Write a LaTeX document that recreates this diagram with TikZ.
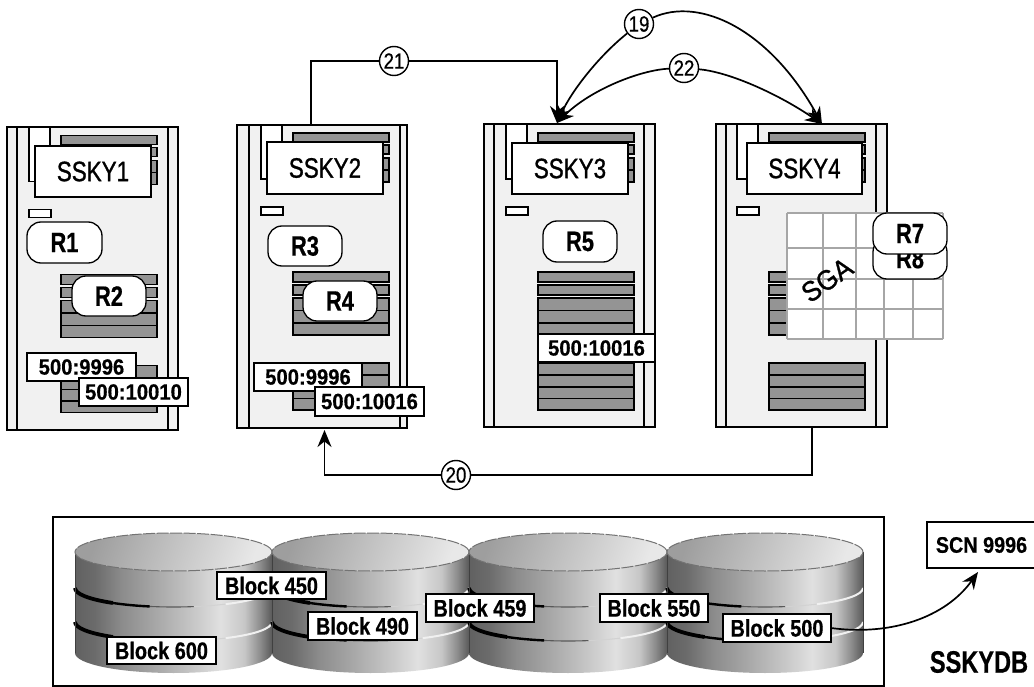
\documentclass[tikz,border=0pt]{standalone}
\usepackage{fontspec}
\setmainfont{Liberation Sans}
\newfontfamily\fS[FakeStretch=0.8,FakeBold=1]{Liberation Sans}
\newfontfamily\fG[FakeStretch=0.93,FakeBold=1]{Liberation Sans}
\newfontfamily\fR[FakeStretch=0.78,FakeBold=.6]{Liberation Sans Bold}
\newfontfamily\fV[FakeStretch=0.92,FakeBold=.5]{Liberation Sans Bold}
\newfontfamily\fB[FakeStretch=0.83,FakeBold=.5]{Liberation Sans Bold}
\newfontfamily\fC[FakeStretch=0.88,FakeBold=.5]{Liberation Sans Bold}
\newfontfamily\fD[FakeStretch=0.76,FakeBold=.6]{Liberation Sans Bold}
\newfontfamily\fN[FakeStretch=0.85,FakeBold=.6]{Liberation Sans}
\usetikzlibrary{arrows.meta}
\pgfdeclarehorizontalshading{diskside}{100bp}{rgb(0bp)=(.38,.38,.38); rgb(25bp)=(.38,.38,.38); rgb(30bp)=(.42,.42,.42); rgb(37bp)=(.55,.55,.55); rgb(45bp)=(.65,.65,.65); rgb(55bp)=(.78,.78,.78); rgb(62bp)=(.88,.88,.88); rgb(68bp)=(.78,.78,.78); rgb(72bp)=(.55,.55,.55); rgb(75bp)=(.35,.35,.35); rgb(100bp)=(.35,.35,.35)}
\tikzset{
  srv/.style={draw=black,line width=1.7pt,fill=srvgray,inner sep=0,outer sep=0},
  strip/.style={draw=black,line width=1.5pt},
  tabbox/.style={draw=black,line width=1.3pt,fill=white},
  bar/.style={draw=black,line width=1.3pt,fill=bargray},
  label/.style={draw=black,line width=1.6pt,fill=white,inner sep=0,outer sep=0,font=\fS\fontsize{28}{30}\selectfont},
  req/.style={draw=black,line width=1.3pt,fill=white,rounded corners=14pt,inner sep=0,outer sep=0,font=\fR\fontsize{28}{30}\selectfont},
  tag/.style={draw=black,line width=1.5pt,fill=white,inner sep=0,outer sep=0,font=\fV\fontsize{22}{24}\selectfont},
  blk/.style={draw=black,line width=1.5pt,fill=white,inner sep=0,outer sep=0,font=\fB\fontsize{24}{26}\selectfont},
  step circle/.style={circle,draw=black,line width=1.4pt,fill=white,minimum size=29pt,inner sep=0,font=\fN\fontsize{22}{24}\selectfont},
  conn/.style={draw=black,line width=1.7pt},
  tip/.style={-{Stealth[length=17pt,width=14pt]}},
  sgaline/.style={draw=sgagray,line width=1.8pt},
}
\definecolor{srvgray}{HTML}{F1F1F1}
\definecolor{bargray}{HTML}{949494}
\definecolor{sgagray}{HTML}{A6A6A6}
\newcommand{\rn}[7]{%
  \pgfmathsetmacro{\rnx}{(#3+#5)/2}\pgfmathsetmacro{\rny}{(#4+#6)/2}%
  \pgfmathsetmacro{\rnw}{#5-#3}\pgfmathsetmacro{\rnh}{#6-#4}%
  \node[#1,minimum width=\rnw pt,minimum height=\rnh pt] (#2) at (\rnx,\rny) {#7};}
% name x0 y0 x1 y1 stripL stripR tabx dy
\newcommand{\serverbody}[9]{%
  \rn{srv}{#1}{#2}{#3}{#4}{#5}{}%
  \draw[strip] (#6,#3) -- (#6,#5) (#7,#3) -- (#7,#5);
  \pgfmathsetmacro{\tabr}{#8+21}\pgfmathsetmacro{\barl}{#8+32}\pgfmathsetmacro{\barr}{#8+128}%
  \draw[tabbox] (#8,#3) rectangle (\tabr,179+#9);
  \draw[tabbox] (#8,207+#9) rectangle (\tabr+1,215+#9);
  \foreach \a/\b in {133/142,145/154,158/170,170/182,272/282,285/295,298/310.5,310.5/323,323/335,363/375,375/387,387/398.5,398.5/410}
    {\draw[bar] (\barl,\a+#9) rectangle (\barr,\b+#9);}
}
\newcommand{\disk}[2]{%
  \pgfmathsetmacro{\dcx}{(#1+#2)/2}\pgfmathsetmacro{\drx}{(#2-#1)/2}%
  \begin{scope}
  \shade[shading=diskside] (#1,552) -- (#1,653) arc[start angle=180,end angle=360,x radius=\drx pt,y radius=20pt] -- (#2,552) -- cycle;
  \foreach \sy in {588,622}{
    \draw[black!65,line width=1.1pt] (#1,\sy) arc[start angle=180,end angle=282,x radius=\drx pt,y radius=19pt];
    \draw[black,line width=2.4pt] (#1,\sy) arc[start angle=180,end angle=256,x radius=\drx pt,y radius=19pt];
    \draw[black,line width=3.8pt] (#1,\sy) arc[start angle=180,end angle=232,x radius=\drx pt,y radius=19pt];
    \draw[white!65!gray,line width=1pt] (#2,\sy) arc[start angle=360,end angle=282,x radius=\drx pt,y radius=19pt];
    \draw[white!88!gray,line width=2pt] (#2,\sy) arc[start angle=360,end angle=302,x radius=\drx pt,y radius=19pt];
  }
  \draw[black!75,line width=.9pt] (#1,552) -- (#1,653) (#2,552) -- (#2,653);
  \draw[black!55,line width=1pt,dash pattern=on 12pt off 1.5pt,left color=black!38,right color=black!9,shading angle=70] (\dcx,552) ellipse[x radius=\drx pt,y radius=19pt];
  \end{scope}
}
\begin{document}
\begin{tikzpicture}[x=1pt,y=-1pt]
\useasboundingbox (0,0) rectangle (1034,687);
\begin{scope}
\clip (0,0) rectangle (1034,687);
% storage frame and disks
\rn{draw=black,line width=1.5pt,fill=white,inner sep=0,outer sep=0}{frame}{53}{517}{884}{686}{}
\disk{75}{272}
\disk{272}{469}
\disk{469}{667}
\disk{667}{863}
% servers
\serverbody{s1}{7}{127}{178}{430}{17}{168}{29}{2.5}
\serverbody{s2}{237}{125}{407}{428}{249}{400}{261}{0}
\serverbody{s3}{484}{124}{655}{427}{494}{644}{506}{0}
\serverbody{s4}{716}{124}{887}{427}{726}{876}{737}{0}
\rn{label}{l1}{35}{146}{151}{197}{SSKY1}
\rn{label}{l2}{267}{142}{383}{194}{SSKY2}
\rn{label}{l3}{512}{143}{628}{194}{SSKY3}
\rn{label}{l4}{747}{143}{862}{194}{SSKY4}
\rn{req}{r1}{27}{222}{102}{263}{R1}
\rn{req}{r2}{72}{276}{146}{316}{R2}
\rn{req}{r3}{268}{226}{342}{266}{R3}
\rn{req}{r4}{303}{281}{377}{321}{R4}
\rn{req}{r5}{543}{221}{617}{262}{R5}
\rn{tag}{t1}{27}{353}{136}{381}{500:9996}
\rn{tag}{t2}{79}{378}{188}{406}{500:10010}
\rn{tag}{t3}{254}{363}{362}{391}{500:9996}
\rn{tag}{t4}{315}{387}{424}{416}{500:10016}
\rn{tag}{t5}{538}{334}{655}{362}{500:10016}
% SGA grid
\fill[white] (787,213) rectangle (943,339);
\foreach \gx in {787,823,856,884,913,943}{\draw[sgaline] (\gx,213) -- (\gx,339);}
\foreach \gy in {213,248,279,309,339}{\draw[sgaline] (787,\gy) -- (943,\gy);}
\node[font=\fG\fontsize{28}{30}\selectfont,rotate=35,inner sep=0] (sga) at (827,280) {SGA};
\rn{req}{r8}{873}{238}{947}{279}{R8}
\rn{req}{r7}{873}{213}{947}{254}{R7}
% blocks
\rn{blk}{b450}{217}{572}{326}{599}{Block 450}
\rn{blk}{b600}{107}{637}{216}{664}{Block 600}
\rn{blk}{b490}{308}{612}{417}{640}{Block 490}
\rn{blk}{b459}{426}{594}{534}{622}{Block 459}
\rn{blk}{b550}{600}{594}{708}{622}{Block 550}
\rn{blk}{b500}{723}{614}{831}{642}{Block 500}
\rn{draw=black,line width=1.5pt,fill=white,inner sep=0,outer sep=0,font=\fC\fontsize{22.5}{24}\selectfont}{scn}{927}{522}{1036}{568}{SCN 9996}
\node[font=\fD\fontsize{31}{33}\selectfont,inner sep=0] (db) at (979,662) {SSKYDB};
% connector ends
\coordinate (s2t) at ([xshift=-11pt]s2.north);
\coordinate (s2b) at ([xshift=2.5pt,yshift=-2pt]s2.south);
\coordinate (s3t) at ([xshift=-12.5pt,yshift=1pt]s3.north);
\coordinate (s4t) at ([xshift=20.5pt]s4.north);
\coordinate (s4b) at ([xshift=10.5pt]s4.south);
\coordinate (scnt) at (978,572);
% step circles
\node[step circle] (c19) at (639,24) {19};
\node[step circle] (c21) at (394,61) {21};
\node[step circle] (c22) at (684,68) {22};
\node[step circle] (c20) at (456,475) {20};
% connectors
\draw[conn] (s2t) |- (c21);
\draw[conn,tip] (c21) -| (s3t);
\draw[conn,tip] (c19) .. controls (600,55) and (572,90) .. (s3t);
\draw[conn,tip] (c19) .. controls (700,-4) and (770,30) .. (s4t);
\draw[conn,tip] (c22) .. controls (640,70) and (590,90) .. (s3t);
\draw[conn,tip] (c22) .. controls (730,72) and (780,95) .. (s4t);
\draw[conn] (s4b) |- (c20);
\draw[conn,tip] (c20) -| (s2b);
\draw[conn,tip] (b500.east) .. controls (890,636) and (945,618) .. (scnt);
\end{scope}
\end{tikzpicture}
\end{document}
